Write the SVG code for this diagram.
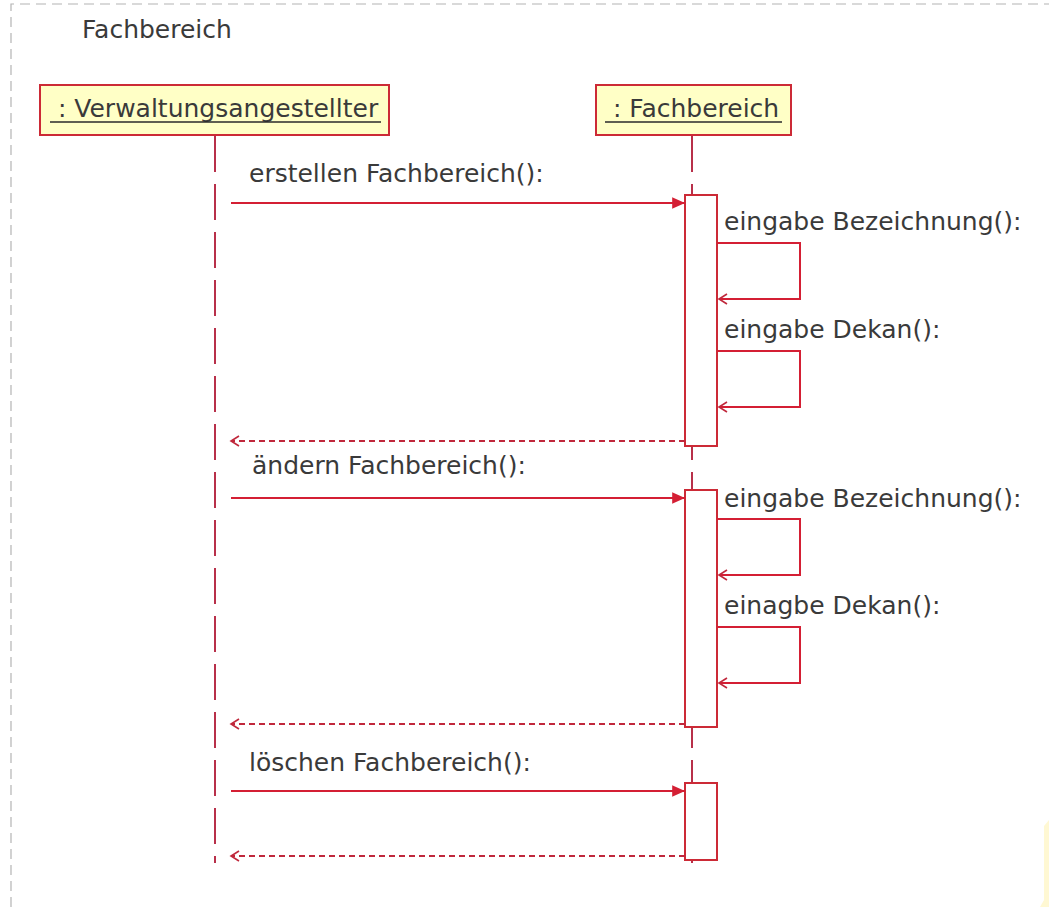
<svg xmlns="http://www.w3.org/2000/svg" width="1049" height="907" viewBox="0 0 1049 907">
<style>
.t{font-family:"DejaVu Sans","Liberation Sans",sans-serif;font-size:25px;fill:#3a3a3a}
.box{fill:#ffffc6;stroke:#cc2a36;stroke-width:2}
.ul{stroke:#2a2a2a;stroke-width:1.6}
.life{stroke:#b8304a;stroke-width:2;stroke-dasharray:36 12;fill:none}
.act{fill:#ffffff;stroke:#cc2a36;stroke-width:2}
.msg{stroke:#d41f34;stroke-width:2;fill:none}
.ret{stroke:#c0283c;stroke-width:1.8;stroke-dasharray:6 4;fill:none}
</style>
<defs>
<marker id="fill" markerUnits="userSpaceOnUse" markerWidth="14" markerHeight="14" viewBox="0 0 12 12" refX="11" refY="6" orient="auto">
<path d="M0,1 L11,6 L0,11 Z" fill="#d41f34"/>
</marker>
<marker id="open" markerUnits="userSpaceOnUse" markerWidth="12" markerHeight="12" viewBox="0 0 12 12" refX="10" refY="6" orient="auto">
<path d="M2,1 L10,6 L2,11" fill="none" stroke="#c0283c" stroke-width="1.6"/>
</marker>
</defs>
<rect width="1049" height="907" fill="#ffffff"/>
<g id="frame">
<path d="M11,907 L11,4 L1049,4" fill="none" stroke="#b4b4b4" stroke-width="1.2" stroke-dasharray="10 6"/>
<text class="t" x="82" y="38">Fachbereich</text>
</g>
<g id="lifelines">
<line class="life" x1="215" y1="136" x2="215" y2="863"/>
<line class="life" x1="692" y1="136" x2="692" y2="863"/>
</g>
<g id="verwaltungsangestellter">
<rect class="box" x="40" y="85" width="349" height="50"/>
<text class="t" x="50" y="117" xml:space="preserve"> : Verwaltungsangestellter</text>
<line class="ul" x1="50" y1="122" x2="381" y2="122"/>
</g>
<g id="fachbereich">
<rect class="box" x="596" y="85" width="195" height="50"/>
<text class="t" x="605" y="117" xml:space="preserve"> : Fachbereich</text>
<line class="ul" x1="605" y1="122" x2="782" y2="122"/>
</g>
<g id="activations">
<rect class="act" x="685" y="195" width="32" height="251"/>
<rect class="act" x="685" y="490" width="32" height="237"/>
<rect class="act" x="685" y="783" width="32" height="77"/>
</g>
<g id="connectors">
<line class="msg" x1="231" y1="203" x2="685" y2="203" marker-end="url(#fill)"/>
<path class="msg" d="M717,243 H800 V299 H719" marker-end="url(#open)"/>
<path class="msg" d="M717,351 H800 V407 H719" marker-end="url(#open)"/>
<line class="ret" x1="685" y1="441" x2="231" y2="441" marker-end="url(#open)"/>
<line class="msg" x1="231" y1="498" x2="685" y2="498" marker-end="url(#fill)"/>
<path class="msg" d="M717,519 H800 V575 H719" marker-end="url(#open)"/>
<path class="msg" d="M717,627 H800 V683 H719" marker-end="url(#open)"/>
<line class="ret" x1="685" y1="724" x2="231" y2="724" marker-end="url(#open)"/>
<line class="msg" x1="231" y1="791" x2="685" y2="791" marker-end="url(#fill)"/>
<line class="ret" x1="685" y1="856" x2="231" y2="856" marker-end="url(#open)"/>
</g>
<g id="labels">
<text class="t" x="249" y="182">erstellen Fachbereich():</text>
<text class="t" x="724" y="230">eingabe Bezeichnung():</text>
<text class="t" x="724" y="338">eingabe Dekan():</text>
<text class="t" x="252" y="474">ändern Fachbereich():</text>
<text class="t" x="724" y="507">eingabe Bezeichnung():</text>
<text class="t" x="724" y="614">einagbe Dekan():</text>
<text class="t" x="249" y="771">löschen Fachbereich():</text>
</g>
<path d="M1049,820 L1044,826 L1044,900 L1040,907 L1049,907 Z" fill="#fff6c8" opacity="0.8"/>
</svg>
